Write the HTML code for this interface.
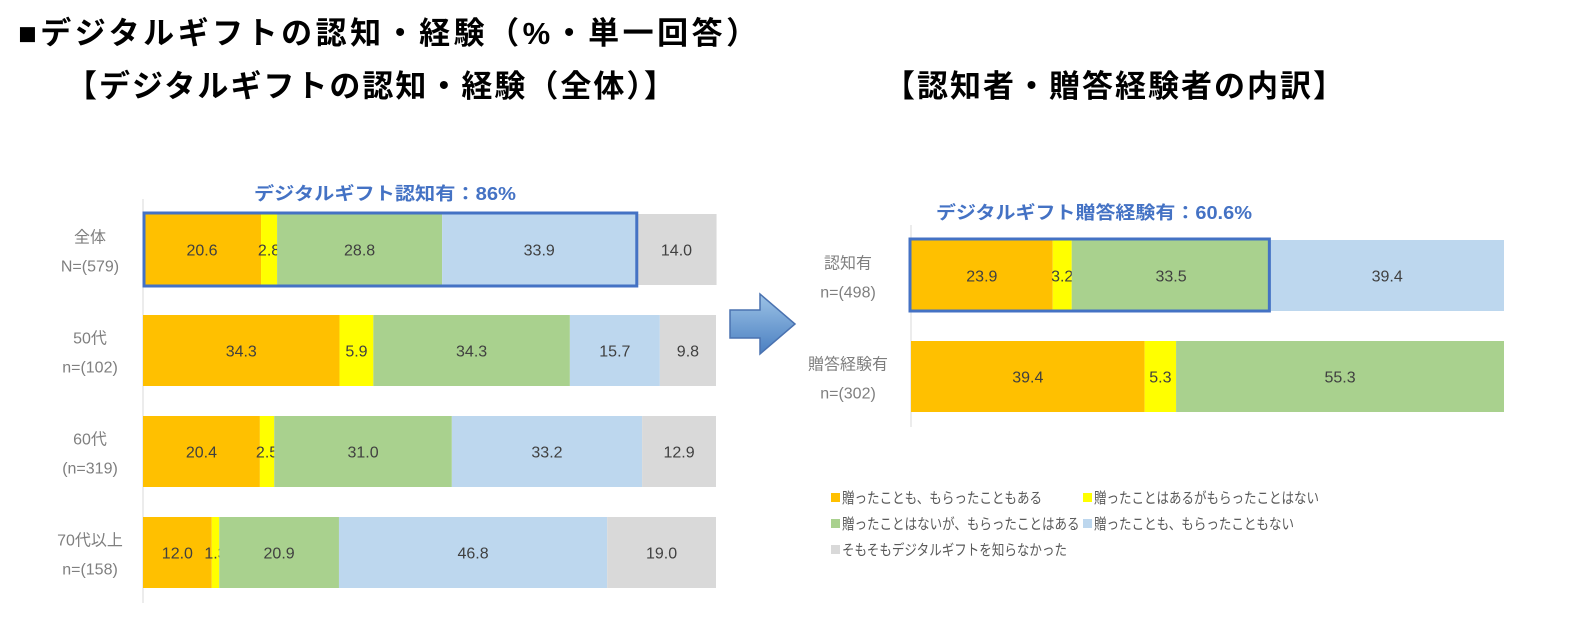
<!DOCTYPE html>
<html><head><meta charset="utf-8"><style>
body{margin:0;width:1585px;height:638px;background:#fff;overflow:hidden;font-family:"Liberation Sans","Noto Sans CJK JP",sans-serif;}
.t{position:absolute;white-space:nowrap;}
</style></head><body>
<div class="t" style="left:18px;top:8px;font-size:31px;font-weight:bold;color:#000;letter-spacing:3.5px">■デジタルギフトの認知・経験（%・単一回答）</div>
<div class="t" style="left:66px;top:61px;font-size:31px;font-weight:bold;color:#000;letter-spacing:2px">【デジタルギフトの認知・経験（全体）】</div>
<div class="t" style="left:884px;top:61px;font-size:31px;font-weight:bold;color:#000;letter-spacing:2px">【認知者・贈答経験者の内訳】</div>
<svg id="chart" width="1585" height="638" style="position:absolute;left:0;top:0">
<defs><linearGradient id="ag" x1="0" y1="0" x2="0" y2="1"><stop offset="0" stop-color="#9dc3e6"/><stop offset="1" stop-color="#4a7fc1"/></linearGradient></defs>
<polygon points="730,310 760,310 760,294 795,324 760,354 760,338 730,338" fill="url(#ag)" stroke="#4a72b0" stroke-width="1.5"/>
</svg>
<script>
const colors=['#ffc000','#ffff00','#a9d18e','#bdd7ee','#d9d9d9'];
const leftCats=['全体','50代','60代','70代以上'];
const leftSubs=['N=(579)','n=(102)','(n=319)','n=(158)'];
const leftS1=[20.6,34.3,20.4,12.0];
const leftS2=[2.8,5.9,2.5,1.3];
const leftS3=[28.8,34.3,31.0,20.9];
const leftS4=[33.9,15.7,33.2,46.8];
const leftS5=[14.0,9.8,12.9,19.0];
const rightCats=['認知有','贈答経験有'];
const rightSubs=['n=(498)','n=(302)'];
const rightS1=[23.9,39.4];
const rightS2=[3.2,5.3];
const rightS3=[33.5,55.3];
const rightS4=[39.4,0];
const leftAware=86;
const rightGift=60.6;
const svg=document.getElementById('chart');
const NS='http://www.w3.org/2000/svg';
function mk(tag,at){const e=document.createElementNS(NS,tag);for(const k in at)e.setAttribute(k,at[k]);svg.appendChild(e);return e;}
function txt(x,y,s,sz,fill,anchor,w){const e=mk('text',{x:x,y:y,'font-size':sz,fill:fill,'text-anchor':anchor||'middle','font-weight':w||'normal','font-family':'Liberation Sans, Noto Sans CJK JP, sans-serif'});e.textContent=s;return e;}
function chart(x0,scale,y0,step,h,series,cats,subs,pref,lx){
  mk('line',{x1:x0,y1:y0-15,x2:x0,y2:y0+step*(cats.length-1)+h+15,stroke:'#d9d9d9'});
  cats.forEach((c,i)=>{
    const y=y0+i*step;let x=x0;
    series.forEach((s,j)=>{const v=s[i];if(!v)return;const w=v*scale;
      const r=mk('rect',{x:x,y:y,width:w,height:h,fill:colors[j]});
      
      
      const t=txt(x+w/2,y+h/2+6,v.toFixed(1),16,'#404040');
      
      
      x+=w;});
    const a=txt(lx,y+h/2-7,c,16,'#7f7f7f');
    
    
    const b=txt(lx,y+h/2+22,subs[i],16,'#7f7f7f');
    
    
  });
}
chart(143,5.73,214,101,71,[leftS1,leftS2,leftS3,leftS4,leftS5],leftCats,leftSubs,'left',90);
chart(911,5.93,240,101,71,[rightS1,rightS2,rightS3,rightS4],rightCats,rightSubs,'right',848);
const b1=mk('rect',{x:144,y:213,width:leftAware*5.73,height:73,fill:'none',stroke:'#4472c4','stroke-width':3});


const b2=mk('rect',{x:910,y:239,width:rightGift*5.93,height:72,fill:'none',stroke:'#4472c4','stroke-width':3});


const a1=txt(385,200,'デジタルギフト認知有：'+leftAware+'%',18,'#4472c4','middle','bold');


a1.setAttribute('textLength',262);
a1.setAttribute('lengthAdjust','spacingAndGlyphs');
const a2=txt(1094,219,'デジタルギフト贈答経験有：'+rightGift+'%',18,'#4472c4','middle','bold');


a2.setAttribute('textLength',316);
a2.setAttribute('lengthAdjust','spacingAndGlyphs');
const legend=['贈ったことも、もらったこともある','贈ったことはあるがもらったことはない','贈ったことはないが、もらったことはある','贈ったことも、もらったこともない','そもそもデジタルギフトを知らなかった'];
legend.forEach((l,i)=>{const x=i%2?1083:831,y=503+Math.floor(i/2)*26;
  const r=mk('rect',{x:x,y:y-10,width:9,height:9,fill:colors[i]});
  
  
  const t=txt(x+11,y,l,15,'#595959','start');
  t.setAttribute('textLength',l.length*12.5);
  t.setAttribute('lengthAdjust','spacingAndGlyphs');
  
  });
</script>
</body></html>
